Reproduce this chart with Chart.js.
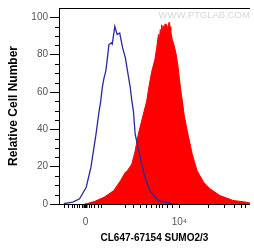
<!DOCTYPE html>
<html>
<head>
<meta charset="utf-8">
<script src="https://cdn.jsdelivr.net/npm/chart.js@4/dist/chart.umd.min.js"></script>
<style>
  html, body { margin: 0; padding: 0; background: #fff; }
</style>
</head>
<body>
<canvas id="histo" width="254" height="251"></canvas>
<script>
// display channel (logicle-ish units) vs relative count
const isotypeX = [-110, -105, -65, -30, 4, 28, 54, 70, 78, 86, 95, 104, 112, 120, 132, 137, 150, 162, 175, 190, 204, 215, 229, 237, 245, 254, 270, 287, 304, 329, 370, 435, 470];
const isotypeY = [0, 0.3, 1, 2.8, 9, 19.6, 37.4, 49.9, 55, 62.3, 67.6, 71.2, 78, 85.4, 86.3, 85.6, 95.2, 90.8, 91.6, 83.6, 78.3, 71.2, 62.3, 55.2, 49.9, 37.4, 29.6, 21.6, 14.3, 7.2, 1.9, 0.3, 0];

const sampleX = [-5, 10, 45, 95, 145, 179, 204, 215, 225, 237, 254, 270, 287, 300, 313, 325, 338, 355, 365, 373, 378, 382, 386, 389, 393, 397, 402, 407, 411, 415, 420, 424, 428, 432, 436, 443, 454, 463, 472, 480, 489, 495, 505, 520, 533, 545, 570, 604, 637, 687, 754, 820, 840];
const sampleY = [0, 0.3, 1.3, 3.6, 7.2, 12.5, 17, 18, 19.5, 21.4, 28.5, 37.4, 44.5, 49.9, 55.2, 63.2, 70.7, 77.6, 84.5, 90.9, 88, 93.5, 92, 96, 93, 95.5, 94, 96.5, 94, 96, 93.5, 96, 97.5, 95, 92.5, 88.3, 84.5, 80.3, 74.4, 66.9, 59.5, 55.2, 47.2, 39.2, 32.8, 26.9, 17.9, 11.6, 8.1, 4.5, 1.9, 1, 0.5];

const yTicks = [0, 20, 40, 60, 80, 100];
const yMinorTicks = [5, 10, 15, 25, 30, 35, 45, 50, 55, 65, 70, 75, 85, 90, 95];
const xTicks = [-105, -85, -68, -55, -43, -30, -15, 0, 20, 32, 45, 65, 80, 207, 245, 283, 312, 337, 362, 378, 395, 420, 445, 480, 628, 712, 762, 795, 820];
const xTickLabels = { 0: '0', 480: '10\u2074' };

const xTitle = 'CL647-67154 SUMO2/3';
const yTitle = 'Relative Cell Number';
const watermark = 'WWW.PTGLAB.COM';

const fontFamily = "'Liberation Sans', Arial, sans-serif";

var toPoints = function(xs, ys) { return xs.map((x, i) => ({ x: x, y: ys[i] })) };

// top frame line, minor y ticks and the faint watermark
const extras = {
    id: 'extras',
    afterDraw(chart) {
        const ctx = chart.ctx
        const a = chart.chartArea
        const ys = chart.scales.y
        ctx.save()
        ctx.strokeStyle = '#000'
        ctx.lineWidth = 1
        ctx.beginPath()
        ctx.moveTo(a.left, a.top + 0.5)
        ctx.lineTo(a.right, a.top + 0.5)
        yMinorTicks.forEach((v) => {
            const p = Math.round(ys.getPixelForValue(v)) + 0.5
            ctx.moveTo(a.left - 4, p)
            ctx.lineTo(a.left, p)
        })
        ctx.stroke()
        ctx.fillStyle = '#d6d6d6'
        ctx.font = '9.5px ' + fontFamily
        ctx.textAlign = 'right'
        ctx.textBaseline = 'middle'
        ctx.fillText(watermark, a.right, a.top + 7)
        ctx.restore()
    }
};

const ctx = document.getElementById('histo').getContext('2d');
window.histo = new Chart(ctx, {
    type: 'line',
    data: {
        datasets: [
            {
                label: 'isotype',
                data: toPoints(isotypeX, isotypeY),
                borderColor: '#2a2aa0',
                borderWidth: 1.3,
                pointRadius: 0,
                tension: 0,
                fill: false,
            },
            {
                label: 'SUMO2/3',
                data: toPoints(sampleX, sampleY),
                borderColor: '#ff0000',
                backgroundColor: '#ff0000',
                borderWidth: 1,
                pointRadius: 0,
                tension: 0,
                fill: 'origin',
            },
        ]
    },
    options: {
        responsive: false,
        animation: false,
        devicePixelRatio: 1,
        layout: { padding: { top: 7, right: 0, bottom: 0, left: 0 } },
        plugins: {
            legend: { display: false },
            tooltip: { enabled: false },
        },
        scales: {
            x: {
                type: 'linear',
                min: -135,
                max: 840,
                afterBuildTicks: (scale) => { scale.ticks = xTicks.map((v) => ({ value: v })) },
                afterFit: (scale) => { scale.height = 47 },
                border: { display: true, color: '#000', width: 1 },
                grid: {
                    drawOnChartArea: false,
                    drawTicks: true,
                    tickLength: 4,
                    tickColor: '#000',
                    tickWidth: (c) => (c.tick && c.tick.value === 0 ? 4 : 1),
                },
                ticks: {
                    autoSkip: false,
                    maxRotation: 0,
                    padding: 8,
                    color: '#555',
                    font: { size: 10, family: fontFamily },
                    callback: (v) => (xTickLabels[v] !== undefined ? xTickLabels[v] : ''),
                },
                title: {
                    display: true,
                    text: xTitle,
                    color: '#000',
                    font: { size: 10, weight: 'bold', family: fontFamily },
                    padding: { top: 0, bottom: 7 },
                },
            },
            y: {
                min: 0,
                max: 105,
                afterBuildTicks: (scale) => { scale.ticks = yTicks.map((v) => ({ value: v })) },
                afterFit: (scale) => { scale.width = 59 },
                border: { display: true, color: '#000', width: 1 },
                grid: {
                    drawOnChartArea: false,
                    drawTicks: true,
                    tickLength: 9,
                    tickColor: '#000',
                },
                ticks: {
                    padding: 2,
                    color: '#555',
                    font: { size: 10, family: fontFamily },
                },
                title: {
                    display: true,
                    text: yTitle,
                    color: '#000',
                    font: { size: 12, weight: 'bold', family: fontFamily },
                    padding: { top: 6, bottom: 0 },
                },
            },
        }
    },
    plugins: [extras]
});
</script>
</body>
</html>
